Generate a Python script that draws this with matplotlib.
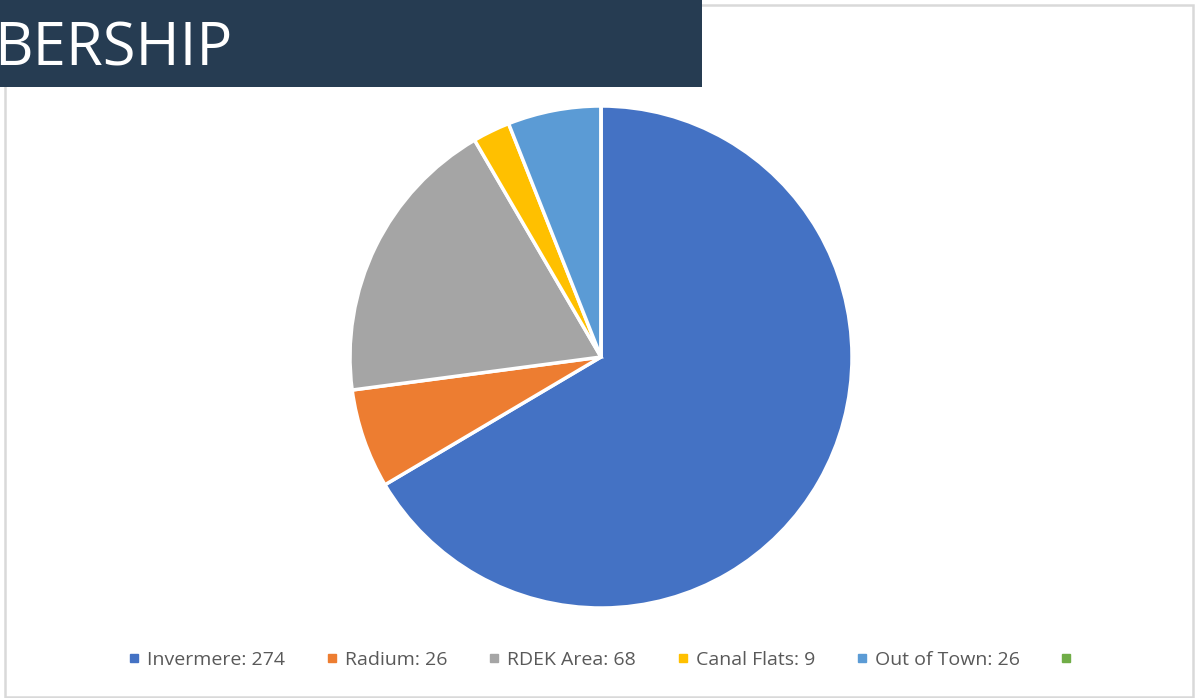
import matplotlib
matplotlib.use("Agg")
import matplotlib.pyplot as plt
from matplotlib.patches import Rectangle
from matplotlib.lines import Line2D

# data
towns = ["Invermere", "Radium", "RDEK Area", "Canal Flats", "Out of Town", ""]
members = [274, 26, 68, 9, 26, 0]
# slice shares (%) as drawn in the original chart
shares = [66.5, 6.4, 18.7, 2.4, 6.0, 0]
colors = ["#4472C4", "#ED7D31", "#A5A5A5", "#FFC000", "#5B9BD5", "#70AD47"]
title = "BERSHIP"

W, H = 1195, 698
fig = plt.figure(figsize=(W / 100, H / 100), dpi=100)
fig.patch.set_facecolor("white")

# chart frame
frame = Rectangle((5 / W, 1 / H), (W - 7) / W, (H - 6) / H, transform=fig.transFigure,
                  fill=False, edgecolor="#D9D9D9", linewidth=1.8)
fig.add_artist(frame)

# pie: centre (601, 357), radius 251 px
cx, cy, r = 601, 357, 251
ax = fig.add_axes([(cx - r) / W, (H - cy - r) / H, 2 * r / W, 2 * r / H])
ax.pie(shares, colors=colors, startangle=90, counterclock=False, radius=1,
       wedgeprops=dict(edgecolor="white", linewidth=2.5))
ax.set_xlim(-1, 1)
ax.set_ylim(-1, 1)
ax.set_aspect("equal")
ax.axis("off")

# legend
labels = [f"{t}: {v}" if t else "" for t, v in zip(towns, members)]
handles = [Line2D([], [], marker="s", linestyle="none", markersize=6,
                  markerfacecolor=c, markeredgecolor=c) for c in colors]
leg = fig.legend(handles, labels, loc="center", bbox_to_anchor=(604 / W, 1 - 660 / H),
                 ncol=6, frameon=False, handlelength=0.6, handletextpad=0.37,
                 columnspacing=2.1, prop={"family": "Open Sans", "size": 14})
for t in leg.get_texts():
    t.set_color("#595959")

# title banner
banner = Rectangle((0, 1 - 87 / H), 702 / W, 87 / H, transform=fig.transFigure,
                   facecolor="#263C52", edgecolor="none")
fig.add_artist(banner)
fig.text(-6 / W, 1 - 66 / H, title, color="white", fontsize=43, family="Open Sans",
         ha="left", va="baseline")

fig.savefig("out.png", dpi=100)
